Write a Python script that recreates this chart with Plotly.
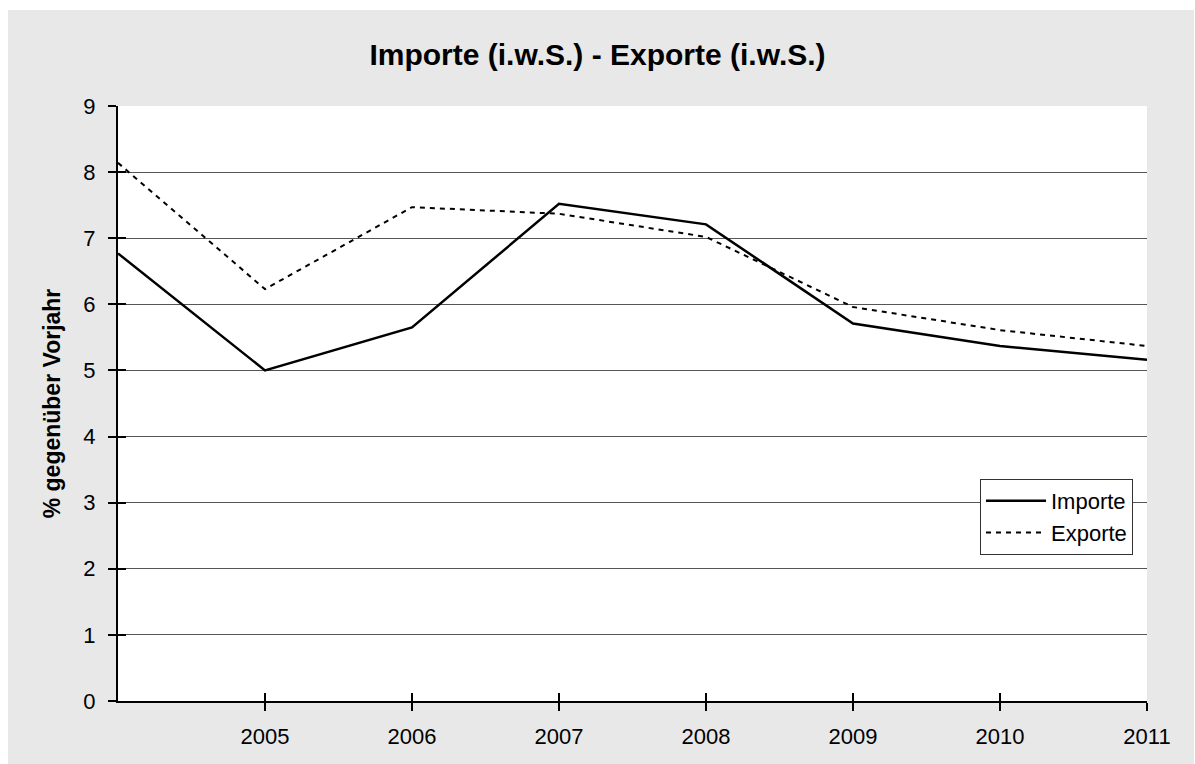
import plotly.graph_objects as go

years = [2004, 2005, 2006, 2007, 2008, 2009, 2010, 2011]
importe = [6.77, 5.00, 5.65, 7.52, 7.21, 5.71, 5.37, 5.16]
exporte = [8.14, 6.23, 7.47, 7.37, 7.02, 5.96, 5.61, 5.37]
x_tick_vals = [2005, 2006, 2007, 2008, 2009, 2010, 2011]
x_tick_text = ["2005", "2006", "2007", "2008", "2009", "2010", "2011"]
y_tick_vals = [0, 1, 2, 3, 4, 5, 6, 7, 8, 9]

FONT = "Liberation Sans, Arial, sans-serif"

fig = go.Figure()
fig.add_trace(go.Scatter(x=years, y=importe, name="Importe", mode="lines",
                         line=dict(color="black", width=2.5)))
fig.add_trace(go.Scatter(x=years, y=exporte, name="Exporte", mode="lines",
                         line=dict(color="black", width=2, dash="5px,5px")))

fig.update_layout(
    width=1195, height=764,
    paper_bgcolor="white", plot_bgcolor="white",
    margin=dict(l=118, r=48, t=106, b=63),
    font=dict(family=FONT, size=22, color="black"),
    title=dict(text="<b>Importe (i.w.S.) - Exporte (i.w.S.)</b>", x=0.5, xanchor="center",
               y=1 - 54 / 764, yanchor="middle", font=dict(size=30, family=FONT)),
    xaxis=dict(range=[2004, 2011], tickvals=x_tick_vals, ticktext=x_tick_text,
               showgrid=False, zeroline=False, showline=True, linecolor="black", linewidth=2,
               ticks="outside", ticklen=8, tickwidth=2, tickcolor="black",
               tickfont=dict(size=22), ticklabelstandoff=7),
    yaxis=dict(range=[0, 9], tickvals=y_tick_vals, showgrid=True, gridcolor="#555555", gridwidth=1,
               zeroline=False, showline=True, linecolor="black", linewidth=2,
               ticks="outside", ticklen=8, tickwidth=2, tickcolor="black",
               tickfont=dict(size=22), ticklabelstandoff=8,
               title=dict(text="<b>% gegenüber Vorjahr</b>", font=dict(size=23), standoff=16)),
    xaxis2=dict(range=[2004, 2011], tickvals=[2004] + x_tick_vals, overlaying="x", side="bottom",
                showgrid=False, zeroline=False, showline=False, showticklabels=False,
                ticks="inside", ticklen=8, tickwidth=2, tickcolor="black"),
    yaxis2=dict(range=[0, 9], tickvals=y_tick_vals, overlaying="y", side="left",
                showgrid=False, zeroline=False, showline=False, showticklabels=False,
                ticks="inside", ticklen=8, tickwidth=2, tickcolor="black"),
    legend=dict(x=(1133 - 118) / 1029, xanchor="right", y=(701 - 479) / 595, yanchor="top",
                bgcolor="white", bordercolor="#333333", borderwidth=1,
                font=dict(size=22), tracegroupgap=0, itemwidth=60),
    showlegend=True,
)

# invisible trace to anchor overlay axes
fig.add_trace(go.Scatter(x=[2004], y=[0], xaxis="x2", yaxis="y2", mode="markers",
                         marker=dict(opacity=0), showlegend=False, hoverinfo="skip"))

fig.add_shape(type="rect", xref="paper", yref="paper",
              x0=(8 - 118) / 1029, x1=(1194 - 118) / 1029,
              y0=(701 - 764) / 595, y1=(701 - 10) / 595,
              fillcolor="#E8E8E8", line=dict(width=0), layer="below")
fig.add_shape(type="rect", xref="paper", yref="paper",
              x0=0, x1=1, y0=0, y1=1,
              fillcolor="white", line=dict(width=0), layer="below")

fig.write_html("out.html")
